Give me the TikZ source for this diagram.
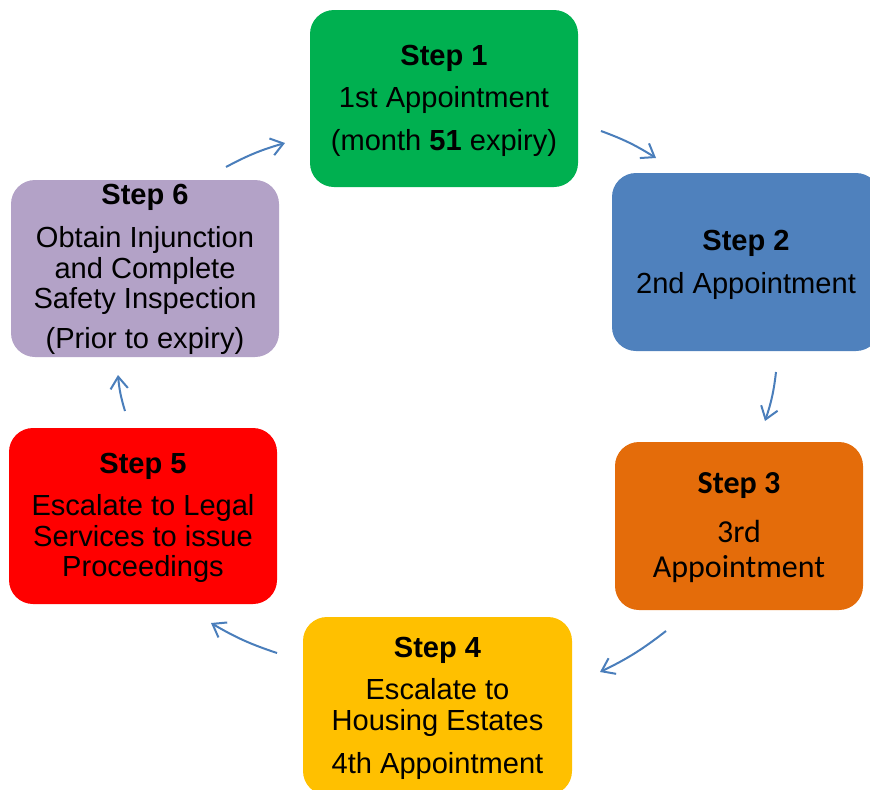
\documentclass[tikz,border=0pt]{standalone}
\usepackage{fontspec}
\setmainfont{Liberation Sans}
\newfontfamily\calib{Carlito}
\usetikzlibrary{arrows.meta}
\definecolor{cgreen}{HTML}{00B050}
\definecolor{cblue}{HTML}{4F81BD}
\definecolor{corange}{HTML}{E46C0A}
\definecolor{cyellow}{HTML}{FFC000}
\definecolor{cred}{HTML}{FF0000}
\definecolor{cpurple}{HTML}{B3A2C7}
\definecolor{carrow}{HTML}{4A7EBB}
\begin{document}
\begin{tikzpicture}[x=0.75pt,y=-0.75pt,
  box/.style={draw=none, rounded corners=18pt, inner sep=0pt},
  txt/.style={anchor=base, inner sep=0pt, font=\fontsize{21.8}{26}\selectfont},
  ctxt/.style={anchor=base, inner sep=0pt, font=\calib\fontsize{24}{29}\selectfont},
  arr/.style={draw=carrow, line width=1.5pt, -{Straight Barb[length=9pt,width=13pt,line width=1.5pt]}}]
\useasboundingbox (0,0) rectangle (870,789);
\clip (0,0) rectangle (870,789);
% boxes
\node[box, fill=cgreen, minimum width=201pt, minimum height=132.75pt] (s1) at (444,98.5) {};
\node[box, fill=cblue, minimum width=201pt, minimum height=133.5pt] (s2) at (746,262) {};
\node[box, fill=corange, minimum width=186pt, minimum height=126pt] (s3) at (739,526) {};
\node[box, fill=cyellow, minimum width=201.75pt, minimum height=133.5pt] (s4) at (437.5,706) {};
\node[box, fill=cred, minimum width=201pt, minimum height=132pt] (s5) at (143,516) {};
\node[box, fill=cpurple, minimum width=201pt, minimum height=132.75pt] (s6) at (145,268.5) {};
% step 1
\node[txt] (t1a) at (444,65) {\textbf{Step 1}};
\node[txt] (t1b) at (444,107) {1st Appointment};
\node[txt] (t1c) at (444,150) {(month \textbf{51} expiry)};
% step 2
\node[txt] (t2a) at (746,250) {\textbf{Step 2}};
\node[txt] (t2b) at (746,293) {2nd Appointment};
% step 3
\node[ctxt] (t3a) at (739,493) {\textbf{Step 3}};
\node[ctxt] (t3b) at (739,542) {3rd};
\node[ctxt] (t3c) at (739,577) {Appointment};
% step 4
\node[txt] (t4a) at (437.5,657) {\textbf{Step 4}};
\node[txt] (t4b) at (437.5,699) {Escalate to};
\node[txt] (t4c) at (437.5,730) {Housing Estates};
\node[txt] (t4d) at (437.5,773) {4th Appointment};
% step 5
\node[txt] (t5a) at (143,473) {\textbf{Step 5}};
\node[txt] (t5b) at (143,515) {Escalate to Legal};
\node[txt] (t5c) at (143,546) {Services to issue};
\node[txt] (t5d) at (143,576) {Proceedings};
% step 6
\node[txt] (t6a) at (145,204) {\textbf{Step 6}};
\node[txt] (t6b) at (145,247) {Obtain Injunction};
\node[txt] (t6c) at (145,278) {and Complete};
\node[txt] (t6d) at (145,308) {Safety Inspection};
\node[txt] (t6e) at (145,348) {(Prior to expiry)};
% arrows
\coordinate (a1s) at (601,131); \coordinate (a1e) at (656,158);
\coordinate (a2s) at (776,372); \coordinate (a2e) at (765,421);
\coordinate (a3s) at (666,631); \coordinate (a3e) at (600,672);
\coordinate (a4s) at (277,653); \coordinate (a4e) at (211,623);
\coordinate (a5s) at (125,411); \coordinate (a5e) at (118,375);
\coordinate (a6s) at (226,167); \coordinate (a6e) at (285,143);
\draw[arr] (a1s) to[bend left=6] (a1e);
\draw[arr] (a2s) to[bend left=6] (a2e);
\draw[arr] (a3s) to[bend left=6] (a3e);
\draw[arr] (a4s) to[bend left=6] (a4e);
\draw[arr] (a5s) to[bend left=6] (a5e);
\draw[arr] (a6s) to[bend left=6] (a6e);
\end{tikzpicture}
\end{document}
